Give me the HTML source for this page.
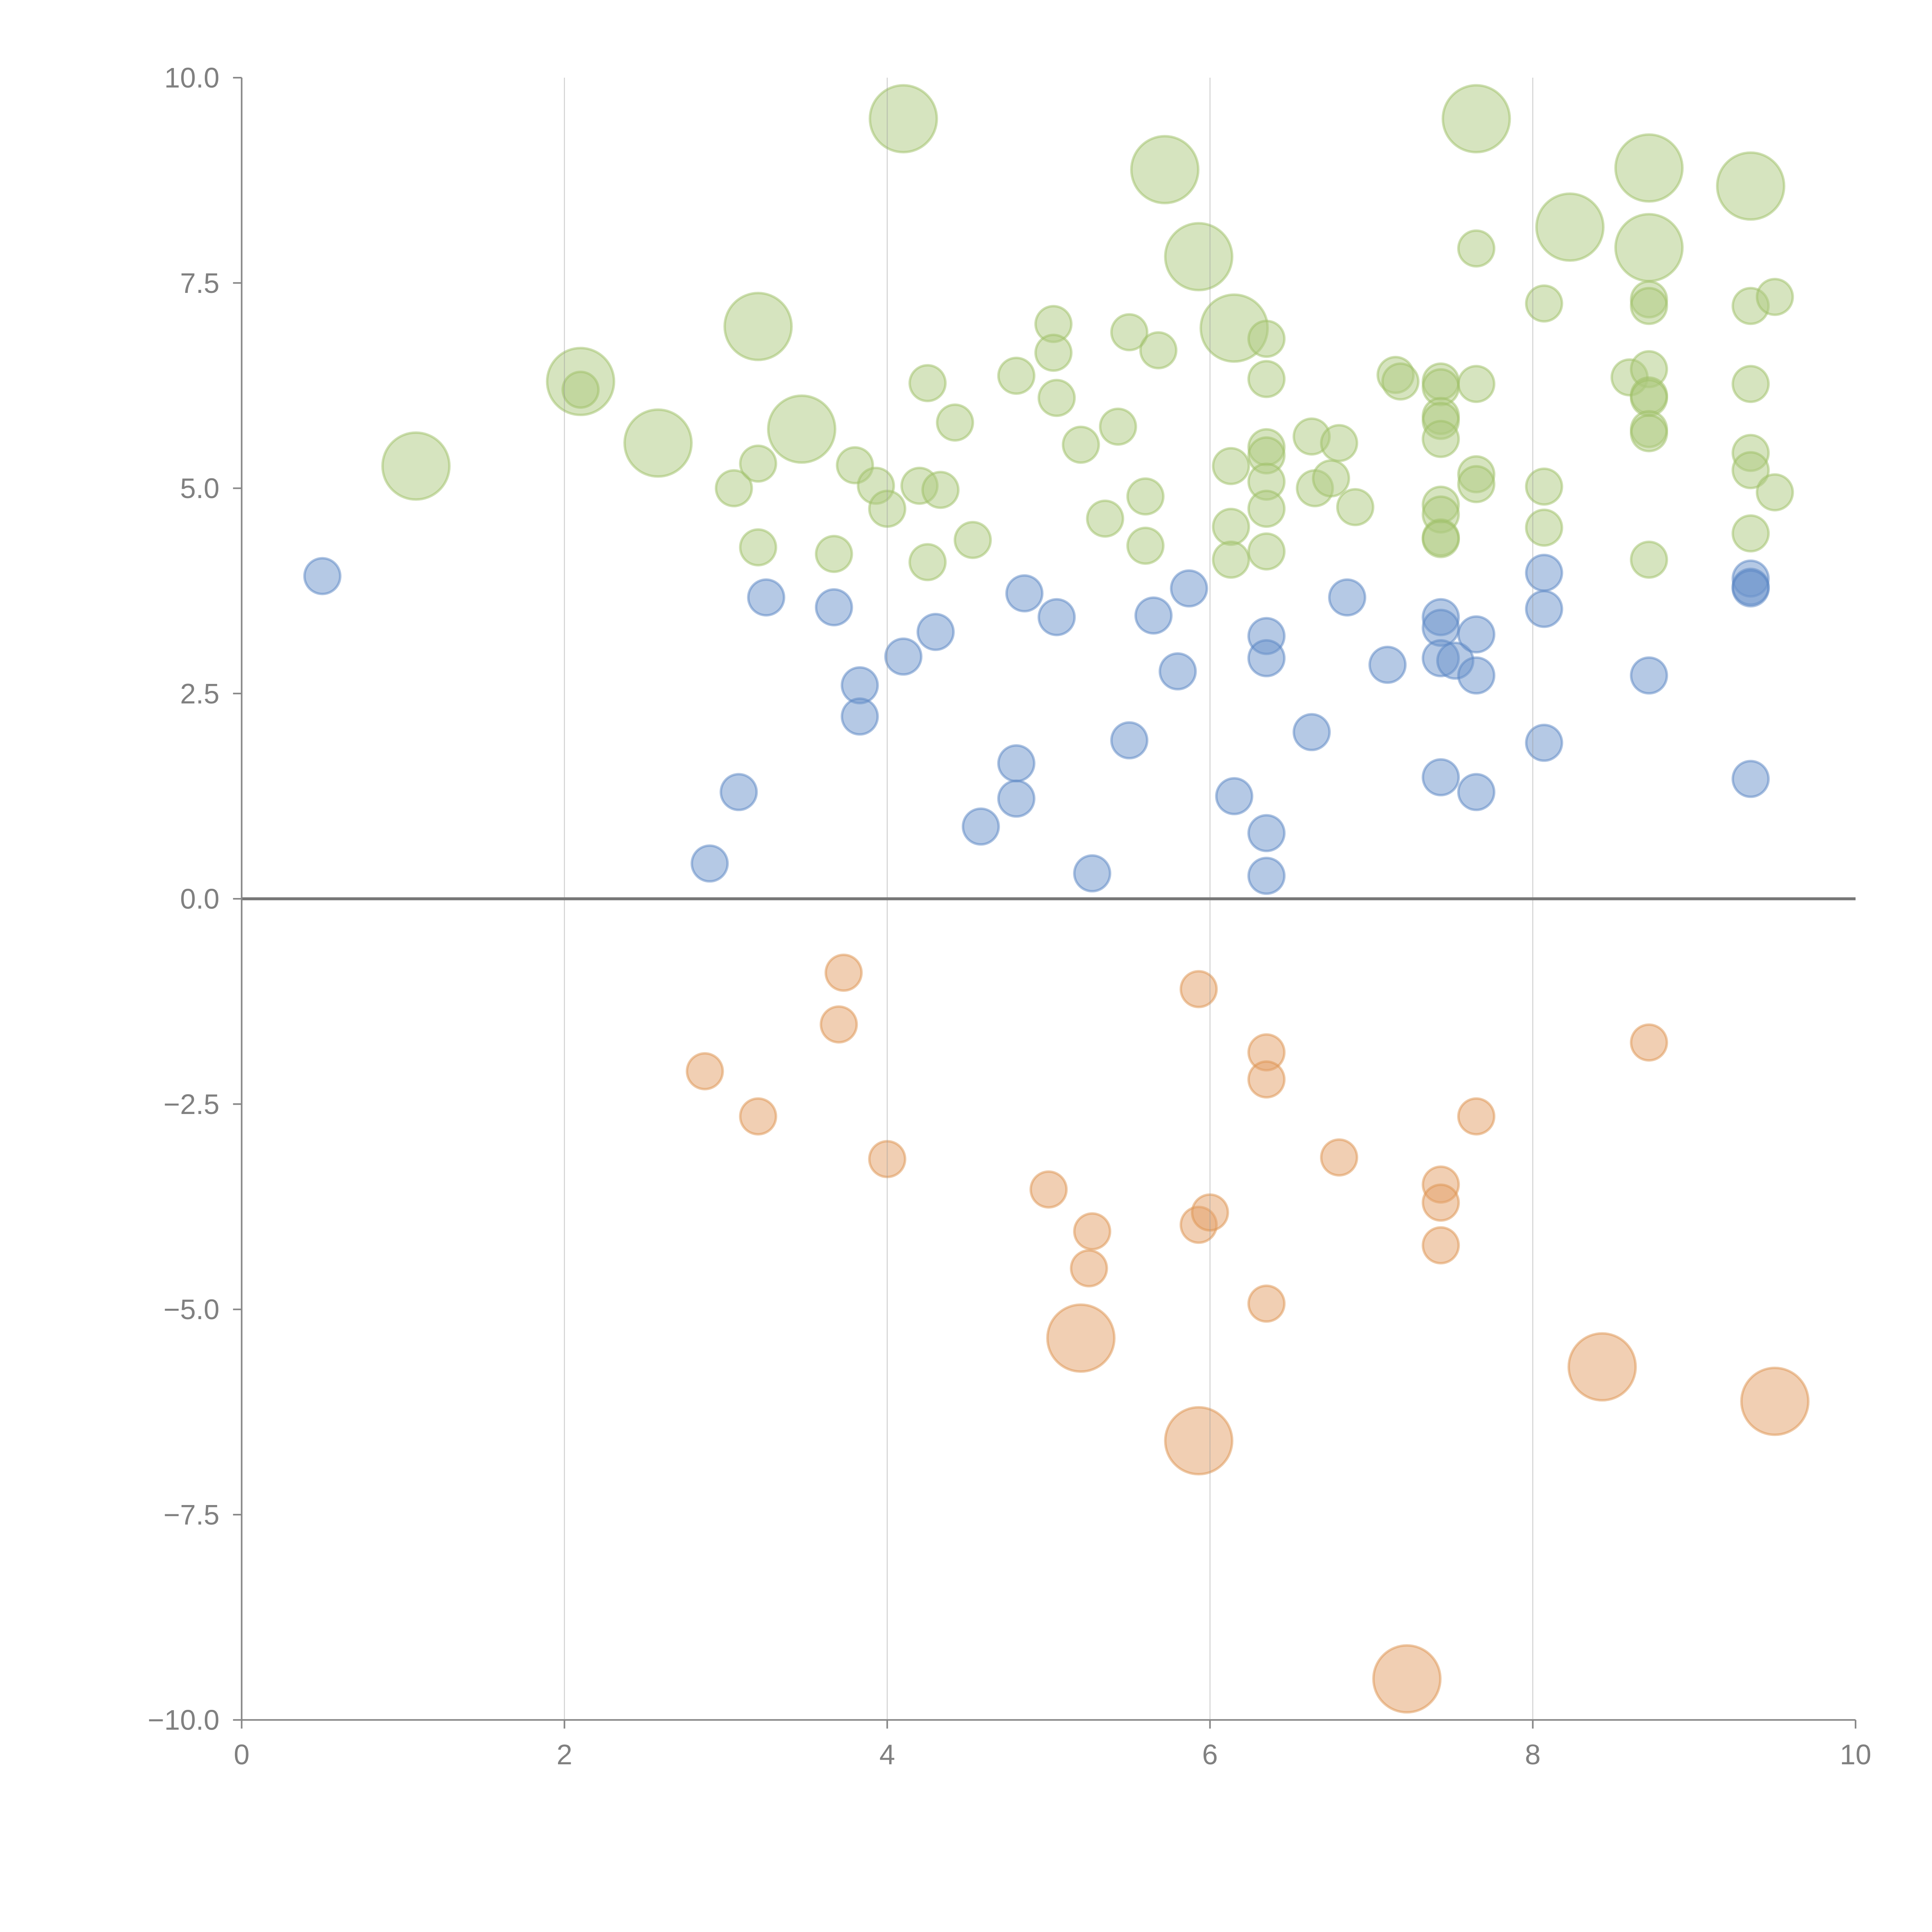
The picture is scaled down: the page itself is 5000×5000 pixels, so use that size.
<!DOCTYPE html>
<html><head><meta charset="utf-8"><style>html,body{margin:0;padding:0;background:#fff}svg{display:block}</style></head>
<body>
<svg id="chart" width="5000" height="5000" viewBox="0 0 1567 1567" xmlns="http://www.w3.org/2000/svg" font-family="Liberation Sans, sans-serif">
<g id="marks"></g>
<g id="axes"></g>
</svg>
<script>
const xTicks=[0,2,4,6,8,10];
const xTickLabels=["0","2","4","6","8","10"];
const yTicks=[10,7.5,5,2.5,0,-2.5,-5,-7.5,-10];
const yTickLabels=["10.0","7.5","5.0","2.5","0.0","\u22122.5","\u22125.0","\u22127.5","\u221210.0"];
const greenX=[1.08,2.1,2.58,3.2,3.47,4.1,5.72,5.93,6.15,7.65,8.23,8.72,8.72,9.35,2.1,3.05,3.2,3.2,3.67,3.8,3.93,4.0,4.2,4.25,4.25,4.33,4.42,4.53,4.8,5.03,5.03,5.05,5.2,5.35,5.43,5.5,5.6,5.6,5.68,6.13,6.13,6.13,6.35,6.35,6.35,6.35,6.35,6.35,6.35,6.63,6.65,6.75,6.8,6.9,7.15,7.18,7.43,7.43,7.43,7.43,7.43,7.43,7.43,7.43,7.43,7.65,7.65,7.65,7.65,8.07,8.07,8.07,8.6,8.72,8.72,8.72,8.72,8.72,8.72,8.72,8.72,9.35,9.35,9.35,9.35,9.35,9.5,9.5];
const greenY=[5.27,6.3,5.55,6.97,5.72,9.5,8.88,7.82,6.95,9.5,8.18,8.9,7.93,8.68,6.2,5.0,5.3,4.28,4.2,5.28,5.03,4.75,5.03,6.28,4.1,4.98,5.8,4.37,6.37,7.0,6.65,6.1,5.53,4.63,5.75,6.9,4.9,4.3,6.68,5.27,4.53,4.13,6.82,6.33,5.5,5.4,5.08,4.75,4.23,5.63,5.0,5.12,5.55,4.77,6.38,6.3,6.3,6.23,5.88,5.82,5.6,4.8,4.68,4.4,4.38,7.92,6.27,5.17,5.05,7.25,5.02,4.52,6.35,7.3,7.22,6.45,6.13,6.1,5.72,5.67,4.13,7.22,6.27,5.43,5.22,4.45,7.33,4.95];
const greenS=[3.5,3.5,3.5,3.5,3.5,3.5,3.5,3.5,3.5,3.5,3.5,3.5,3.5,3.5,1,1,1,1,1,1,1,1,1,1,1,1,1,1,1,1,1,1,1,1,1,1,1,1,1,1,1,1,1,1,1,1,1,1,1,1,1,1,1,1,1,1,1,1,1,1,1,1,1,1,1,1,1,1,1,1,1,1,1,1,1,1,1,1,1,1,1,1,1,1,1,1,1,1];
const blueX=[0.5,3.25,3.08,2.9,3.67,3.83,3.83,4.1,4.3,4.58,4.8,4.8,4.85,5.05,5.27,5.5,5.65,5.8,5.87,6.15,6.35,6.35,6.35,6.35,6.63,6.85,7.1,7.43,7.43,7.43,7.43,7.52,7.65,7.65,7.65,8.07,8.07,8.07,8.72,9.35,9.35,9.35,9.35];
const blueY=[3.93,3.67,1.3,0.43,3.55,2.6,2.22,2.95,3.25,0.88,1.65,1.22,3.72,3.43,0.31,1.93,3.45,2.77,3.78,1.25,3.2,2.93,0.8,0.28,2.03,3.67,2.85,3.43,3.3,2.93,1.48,2.9,3.22,2.72,1.3,3.97,3.53,1.9,2.72,3.9,3.8,3.78,1.46];
const orangeX=[3.73,3.7,2.87,3.2,4.0,5.0,5.27,5.25,5.93,5.93,6.0,6.35,6.35,6.35,6.8,7.43,7.43,7.43,7.65,8.72,5.2,5.93,8.43,9.5,7.22];
const orangeY=[-0.9,-1.53,-2.1,-2.65,-3.17,-3.54,-4.05,-4.5,-1.1,-3.97,-3.82,-1.87,-2.2,-4.93,-3.15,-3.48,-3.7,-4.22,-2.65,-1.75,-5.35,-6.6,-5.7,-6.12,-9.5];
const orangeS=[1,1,1,1,1,1,1,1,1,1,1,1,1,1,1,1,1,1,1,1,3.5,3.5,3.5,3.5,3.5];

const NS="http://www.w3.org/2000/svg";
const X0=196,X1=1505,Y0=1395,Y1=63;
function sx(v){return X0+(v-0)/(10-0)*(X1-X0);}
function sy(v){return Y0-(v+10)/20*(Y0-Y1);}
function sr(s){return 14.5*Math.sqrt(s);}
function mk(tag,attrs,parent){const e=document.createElementNS(NS,tag);for(const k in attrs)e.setAttribute(k,attrs[k]);parent.appendChild(e);return e;}
const marks=document.getElementById('marks');
const axes=document.getElementById('axes');
function series(xs,ys,ss,fill,stroke,name){
  const g=mk('g',{},marks);
  
  
  for(let i=0;i<xs.length;i++){
    const c=mk('circle',{cx:sx(xs[i]),cy:sy(ys[i]),r:sr(ss?ss[i]:1),fill:fill,'fill-opacity':0.5,stroke:stroke,'stroke-opacity':0.5,'stroke-width':2},g);
    
    
  }
}
series(greenX,greenY,greenS,'#aec97f','#9ebf66','green');
series(blueX,blueY,null,'#6b93cc','#5a86c4','blue');
series(orangeX,orangeY,orangeS,'#e4a068','#de9350','orange');
xTicks.forEach((t,i)=>{
  if(t>0&&t<10){const l=mk('line',{x1:sx(t),x2:sx(t),y1:Y1,y2:Y0,stroke:'#999','stroke-opacity':0.45,'stroke-width':0.8},axes);
  
  }
});
const zl=mk('line',{x1:X0,x2:X1,y1:sy(0),y2:sy(0),stroke:'#777','stroke-width':2.4},axes);


const ya=mk('line',{x1:X0,x2:X0,y1:Y1,y2:Y0,stroke:'#888','stroke-width':1.3},axes);


const xa=mk('line',{x1:X0,x2:X1,y1:Y0,y2:Y0,stroke:'#888','stroke-width':1.3},axes);


yTicks.forEach((t,i)=>{
  const y=sy(t);
  const tk=mk('line',{x1:X0-7,x2:X0,y1:y,y2:y,stroke:'#888','stroke-width':1.3},axes);
  
  
  const tx=mk('text',{x:X0-18,y:y+8,'text-anchor':'end','font-size':23,fill:'#808080'},axes);
  tx.textContent=yTickLabels[i];
  
  
});
xTicks.forEach((t,i)=>{
  const x=sx(t);
  const tk=mk('line',{x1:x,x2:x,y1:Y0,y2:Y0+7,stroke:'#888','stroke-width':1.3},axes);
  
  
  const tx=mk('text',{x:x,y:Y0+36,'text-anchor':'middle','font-size':23,fill:'#808080'},axes);
  tx.textContent=xTickLabels[i];
  
  
});
</script>
</body></html>
